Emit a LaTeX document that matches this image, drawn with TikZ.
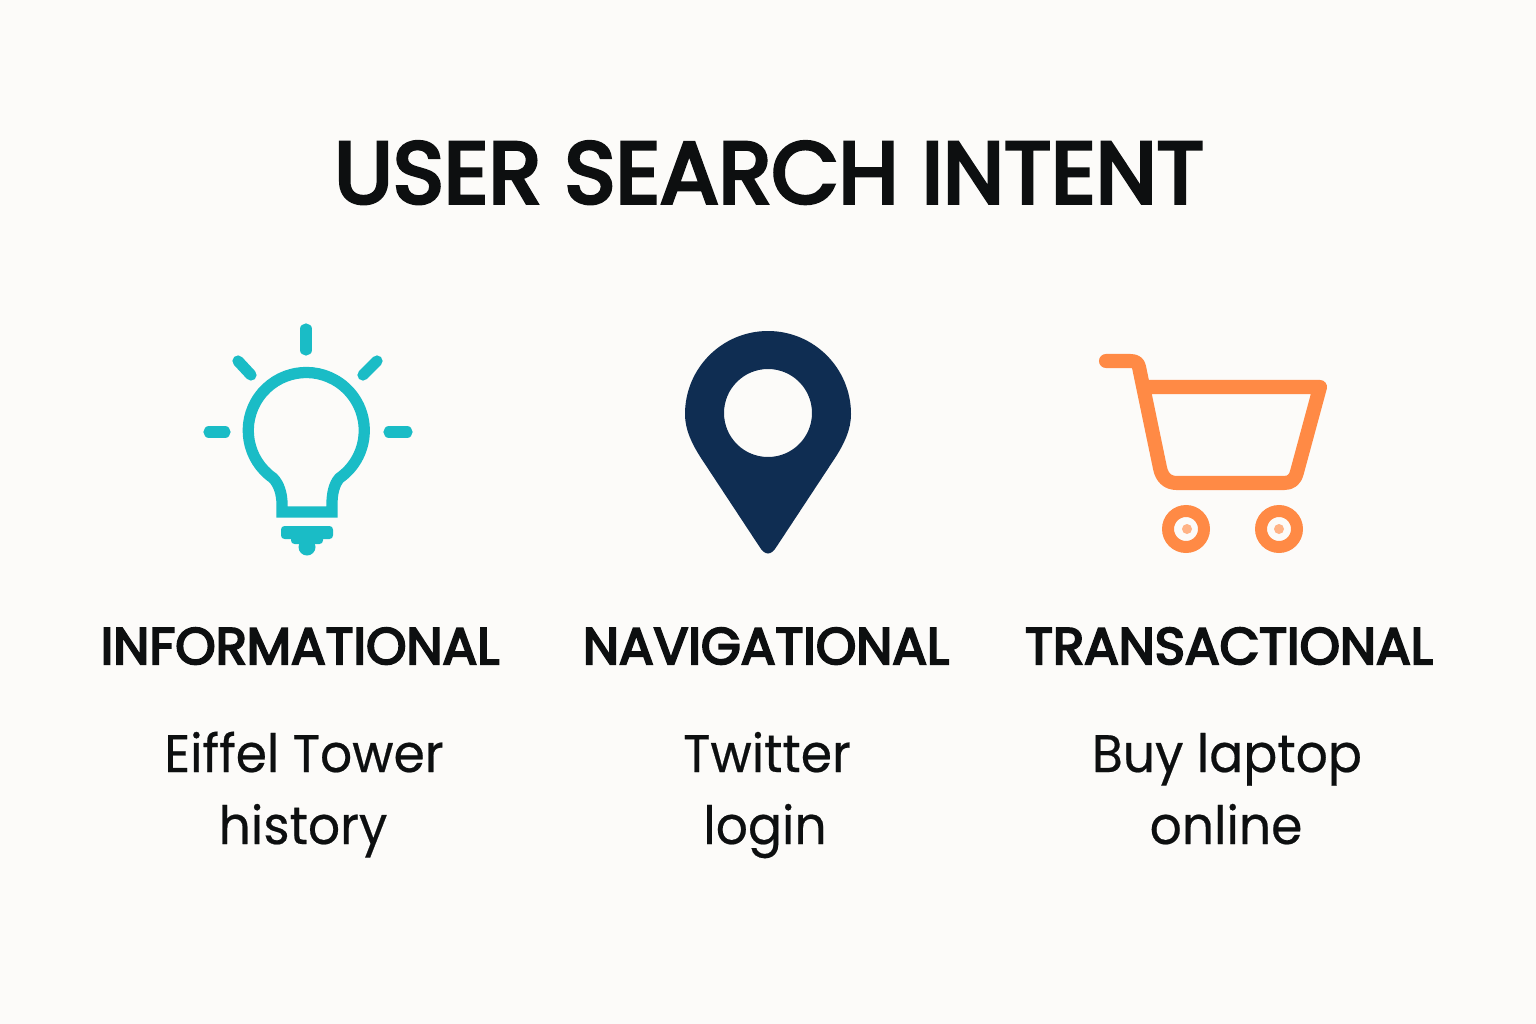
\documentclass[tikz,border=0pt]{standalone}
\usepackage{fontspec}
\setmainfont[FakeStretch=0.955,FakeBold=0.4]{Poppins}
\newfontfamily\headfont[FakeBold=4.2]{Poppins}
\definecolor{paper}{HTML}{FCFBF9}
\definecolor{ink}{HTML}{0D0F10}
\definecolor{bulbteal}{HTML}{1ABCC6}
\definecolor{pinnavy}{HTML}{0F2D52}
\definecolor{cartorange}{HTML}{FF8A45}
\tikzset{
	titletext/.style={anchor=base,text=ink,font=\headfont\fontsize{24.7}{28}\selectfont},
	headtext/.style={anchor=base,text=ink,font=\headfont\fontsize{14.6}{18}\selectfont},
	bodytext/.style={anchor=base,text=ink,font=\fontsize{15}{18}\selectfont},
	bulbline/.style={draw=bulbteal,line width=3.2pt,line cap=round,line join=round},
	cartline/.style={draw=cartorange,line width=4pt,line cap=round,line join=round}
}
\begin{document}
\begin{tikzpicture}[x=0.01cm,y=-0.01cm]
	\fill[paper] (0,0) rectangle (1536,1024);
	\useasboundingbox (0,0) rectangle (1536,1024);
	\node[titletext] (title) at (769,203) {USER SEARCH INTENT};
	\draw[bulbline] (306,329)--(306,350);
	\draw[bulbline] (238,361)--(251,375);
	\draw[bulbline] (377,361)--(363,375);
	\draw[bulbline] (209,432)--(225,432);
	\draw[bulbline] (389,432)--(407,432);
	\draw[bulbline,line cap=butt,line join=miter] (282,512)--(282,504) .. controls (282,494) and (279,484) .. (273,478) arc[start angle=125,end angle=415,radius=58] .. controls (334,484) and (332,494) .. (332,504)--(332,512)--cycle;
	\fill[bulbteal,rounded corners=1pt] (281,526) rectangle (333,539);
	\fill[bulbteal,rounded corners=1pt] (291,535) rectangle (323,544);
	\fill[bulbteal] (307,547) circle (8.5);
	\fill[pinnavy,even odd rule] (759,546)--(701,458) .. controls (692,444) and (685,430) .. (685,414) arc[start angle=180,end angle=360,radius=83] .. controls (851,430) and (844,444) .. (835,458)--(777,546) .. controls (771,556) and (765,556) .. (759,546)--cycle (768,413) circle (44);
	\draw[cartline] (1106,361)--(1130,361) .. controls (1136,361) and (1138,363) .. (1139,367)--(1160,468) .. controls (1162,478) and (1168,483) .. (1177,483)--(1284,483) .. controls (1291,483) and (1295,480) .. (1297,472)--(1320,387)--(1144,387);
	\draw[cartorange,line width=3.4pt,fill=paper] (1186,529) circle (18);
	\draw[cartorange,line width=3.4pt,fill=paper] (1279,529) circle (18);
	\fill[cartorange!65] (1187,529) circle (5);
	\fill[cartorange!65] (1279,529) circle (5);
	\node[headtext] (info) at (300,664) {INFORMATIONAL};
	\node[headtext] (navi) at (766,664) {NAVIGATIONAL};
	\node[headtext] (trans) at (1229,664) {TRANSACTIONAL};
	\node[bodytext] (infoa) at (304,772) {Eiffel Tower};
	\node[bodytext] (infob) at (303,844) {history};
	\node[bodytext] (navia) at (767,772) {Twitter};
	\node[bodytext] (navib) at (765,844) {login};
	\node[bodytext] (transa) at (1227,772) {Buy laptop};
	\node[bodytext] (transb) at (1226,844) {online};
\end{tikzpicture}
\end{document}
